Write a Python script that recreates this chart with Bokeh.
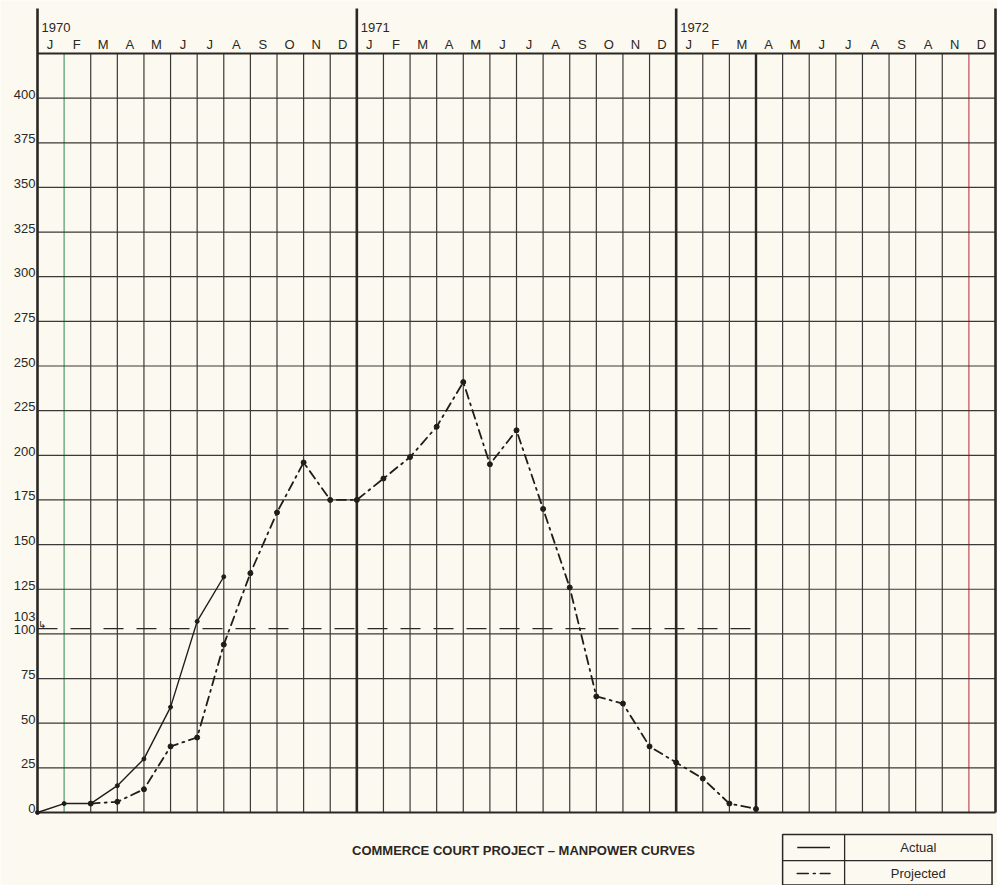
from bokeh.plotting import figure
from bokeh.models import Range1d, ColumnDataSource
from bokeh.core.properties import value
from bokeh.embed import file_html
from bokeh.resources import INLINE

# ---------------- data ----------------
years = ["1970", "1971", "1972"]
months_1970 = ["J", "F", "M", "A", "M", "J", "J", "A", "S", "O", "N", "D"]
months_1971 = ["J", "F", "M", "A", "M", "J", "J", "A", "S", "O", "N", "D"]
months_1972 = ["J", "F", "M", "A", "M", "J", "J", "A", "S", "A", "N", "D"]
y_ticks = [0, 25, 50, 75, 100, 125, 150, 175, 200, 225, 250, 275, 300, 325, 350, 375, 400]
grid_top = 425
baseline_level = 103

# month index = number of month-ends since 1 Jan 1970
actual_month = [0, 1, 2, 3, 4, 5, 6, 7]
actual_men = [0, 5, 5, 15, 30, 59, 107, 132]

projected_month = [2, 3, 4, 5, 6, 7, 8, 9, 10, 11, 12, 13, 14, 15, 16, 17, 18, 19,
                   20, 21, 22, 23, 24, 25, 26, 27]
projected_men = [5, 6, 13, 37, 42, 94, 134, 168, 196, 175, 175, 187, 199, 216, 241,
                 195, 214, 170, 126, 65, 61, 37, 28, 19, 5, 2]

title_text = "COMMERCE COURT PROJECT \u2013 MANPOWER CURVES"
legend_labels = ["Actual", "Projected"]

# ---------------- style ----------------
PAPER = "#fcfaf0"
INK = "#2b2724"
THIN = "#3d3936"
FONT = value("Liberation Sans")
n_months = 36
thick_x = [0, 12, 24, 36]
thick_short_x = [27]
special_colors = {1: "#4f9a6c", 35: "#c24a5a"}
header_top = 450.2

p = figure(width=997, height=885,
           x_range=Range1d(-1.3904, 36.075), y_range=Range1d(-40.88, 454.67),
           output_backend="svg", toolbar_location=None,
           x_axis_location=None, y_axis_location=None,
           min_border=0, background_fill_color=PAPER, border_fill_color=PAPER)
p.outline_line_color = None
p.xgrid.visible = False
p.ygrid.visible = False

# thin vertical month lines
vx = [i for i in range(1, n_months) if i not in thick_x + thick_short_x]
vcol = [special_colors.get(i, THIN) for i in vx]
p.segment(x0=vx, y0=[0] * len(vx), x1=vx, y1=[grid_top] * len(vx),
          line_color=vcol, line_width=1.2)

# horizontal grid lines
hy = [v for v in y_ticks if v != 0]
p.segment(x0=[0] * len(hy), y0=hy, x1=[n_months] * len(hy), y1=hy,
          line_color=THIN, line_width=1.2)

# header line and bottom line
p.segment(x0=[0, 0], y0=[grid_top, 0], x1=[n_months, n_months], y1=[grid_top, 0],
          line_color=INK, line_width=2.2)

# thick year lines (through header) and thick Mar/Apr 1972 line
p.segment(x0=thick_x, y0=[0] * 4, x1=thick_x, y1=[header_top] * 4,
          line_color=INK, line_width=2.6)
p.segment(x0=thick_short_x, y0=[0], x1=thick_short_x, y1=[grid_top],
          line_color=INK, line_width=2.4)

# header texts
p.text(x=[12 * k + 0.15 for k in range(3)], y=[439.5] * 3, text=years,
       text_font=FONT, text_font_size="13px", text_color=INK,
       text_align="left", text_baseline="middle")
all_months = months_1970 + months_1971 + months_1972
p.text(x=[i + 0.47 for i in range(n_months)], y=[429.8] * n_months, text=all_months,
       text_font=FONT, text_font_size="13px", text_color=INK,
       text_align="center", text_baseline="middle")

# y labels
p.text(x=[-0.08] * len(y_ticks), y=y_ticks, text=[str(v) for v in y_ticks],
       text_font=FONT, text_font_size="13px", text_color=INK,
       text_align="right", text_baseline="middle", y_offset=-4)
p.text(x=[-0.08], y=[baseline_level], text=[str(baseline_level)],
       text_font=FONT, text_font_size="13px", text_color=INK,
       text_align="right", text_baseline="middle", y_offset=-12)
p.text(x=[0.02], y=[baseline_level], text=["\u21b3"],
       text_font=value("DejaVu Sans"), text_font_size="10px", text_color=INK,
       text_align="left", text_baseline="bottom", y_offset=1)

# 103 dashed line
p.line(x=[0, 27], y=[baseline_level, baseline_level], line_color=INK,
       line_width=1.3, line_dash="20 13")

# projected curve
proj = ColumnDataSource(dict(x=projected_month, y=projected_men))
p.line("x", "y", source=proj, line_color="#1f1c1a", line_width=1.8,
       line_dash="9 5 2 5", line_cap="round")
p.scatter("x", "y", source=proj, size=5, color="#1f1c1a")

# actual curve
act = ColumnDataSource(dict(x=actual_month, y=actual_men))
p.line("x", "y", source=act, line_color="#1f1c1a", line_width=1.4)
p.scatter("x", "y", source=act, size=4, color="#1f1c1a")

# title
p.text(x=[18.26], y=[-21.3], text=[title_text], text_font=FONT,
       text_font_size="13px", text_font_style="bold", text_color=INK,
       text_align="center", text_baseline="middle")

# legend box
L, R, M = 28.0, 35.87, 30.33
T, B, MID = -12.3, -40.6, -26.9
p.quad(left=[L], right=[R], top=[T], bottom=[B], fill_color=None,
       line_color=INK, line_width=1.5)
p.segment(x0=[M, L], y0=[T, MID], x1=[M, R], y1=[B, MID], line_color=INK, line_width=1.3)
p.line(x=[28.55, 29.78], y=[-19.6, -19.6], line_color="#1f1c1a", line_width=1.4)
p.line(x=[28.55, 29.78], y=[-34.2, -34.2], line_color="#1f1c1a", line_width=1.6,
       line_dash="11 5 2 5", line_cap="round")
p.text(x=[33.1, 33.1], y=[-19.6, -34.2], text=legend_labels, text_font=FONT,
       text_font_size="13px", text_color=INK, text_align="center",
       text_baseline="middle")

open("out.html", "w").write(file_html(p, INLINE))
